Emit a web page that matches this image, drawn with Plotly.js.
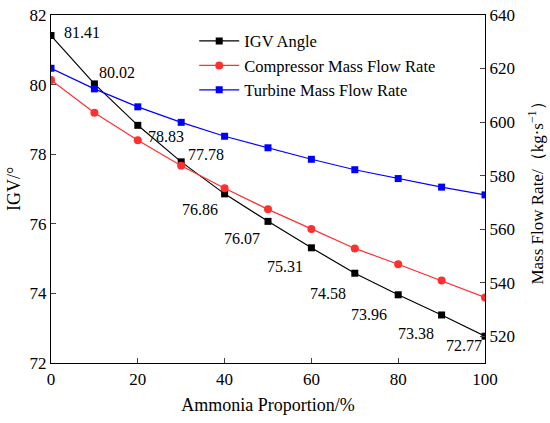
<!DOCTYPE html>
<html><head><meta charset="utf-8">
<script src="https://cdn.plot.ly/plotly-3.0.1.min.js"></script>
<style>html,body{margin:0;padding:0;background:#fff}#c{width:550px;height:423px}</style>
</head><body><div id="c"></div>
<script>
var ammonia = [0, 10, 20, 30, 40, 50, 60, 70, 80, 90, 100];
var igvAngle = [81.41, 80.02, 78.83, 77.78, 76.86, 76.07, 75.31, 74.58, 73.96, 73.38, 72.77];
var compressorFlow = [615.7, 603.5, 593.2, 583.7, 575.3, 567.4, 560.1, 552.8, 546.9, 540.8, 534.5];
var turbineFlow = [620.1, 612.4, 605.7, 599.9, 594.7, 590.4, 586.1, 582.2, 578.9, 575.7, 572.8];
var igvLabels = ["81.41","80.02","78.83","77.78","76.86","76.07","75.31","74.58","73.96","73.38","72.77"];
var labelDx = [31, 23, 28, 25, -25, -26, -26, -27, -29, -26, -21];
var labelDy = [3, 11, -11, 7, -16, -17, -19, -20, -19.5, -19, -9];

var F = "'Liberation Serif', 'Times New Roman', serif";
var traces = [
  {x: ammonia, y: igvAngle, name: "IGV Angle", mode: "lines+markers", yaxis: "y",
   line: {color: "#000000", width: 1.2}, marker: {symbol: "square", size: 7, color: "#000000"}},
  {x: ammonia, y: compressorFlow, name: "Compressor Mass Flow Rate", mode: "lines+markers", yaxis: "y2",
   line: {color: "#ff3030", width: 1.2}, marker: {symbol: "circle", size: 8, color: "#ff3030"}},
  {x: ammonia, y: turbineFlow, name: "Turbine Mass Flow Rate", mode: "lines+markers", yaxis: "y2",
   line: {color: "#0000ff", width: 1.2}, marker: {symbol: "square", size: 7, color: "#0000ff"}}
];
var annotations = ammonia.map(function(xv, i){
  return {x: xv, y: igvAngle[i], xref: "x", yref: "y", text: igvLabels[i], showarrow: false,
          xshift: labelDx[i], yshift: labelDy[i], font: {family: F, size: 16, color: "#000"}};
});
var layout = {
  width: 550, height: 423,
  margin: {l: 51, r: 65, t: 15, b: 60},
  paper_bgcolor: "#fff", plot_bgcolor: "#fff",
  font: {family: F, size: 16, color: "#000"},
  showlegend: true,
  legend: {x: 0.33, y: 0.975, xanchor: "left", yanchor: "top", bgcolor: "rgba(0,0,0,0)",
           font: {family: F, size: 16.5}, tracegroupgap: 0, itemwidth: 40},
  xaxis: {range: [0, 100], tickvals: [0,20,40,60,80,100], ticks: "inside", ticklen: 5,
          showline: true, linecolor: "#000", linewidth: 1.2, mirror: true, showgrid: false, zeroline: false,
          title: {text: "Ammonia Proportion/%", font: {family: F, size: 18}, standoff: 10},
          tickfont: {family: F, size: 17}},
  yaxis: {range: [72, 82], tickvals: [72,74,76,78,80,82], ticks: "inside", ticklen: 5,
          showline: true, linecolor: "#000", linewidth: 1.2, showgrid: false, zeroline: false,
          title: {text: "IGV/°", font: {family: F, size: 18}, standoff: 4},
          tickfont: {family: F, size: 17}},
  yaxis2: {range: [510, 640], tickvals: [520,540,560,580,600,620,640], ticks: "inside", ticklen: 5,
           overlaying: "y", side: "right",
           showline: true, linecolor: "#000", linewidth: 1.2, showgrid: false, zeroline: false,
           title: {text: "Mass Flow Rate/（kg·s<sup>−1</sup>）", font: {family: F, size: 17}, standoff: 17},
           tickfont: {family: F, size: 17}},
  annotations: annotations
};
Plotly.newPlot("c", traces, layout, {displayModeBar: false, staticPlot: true});
</script></body></html>
